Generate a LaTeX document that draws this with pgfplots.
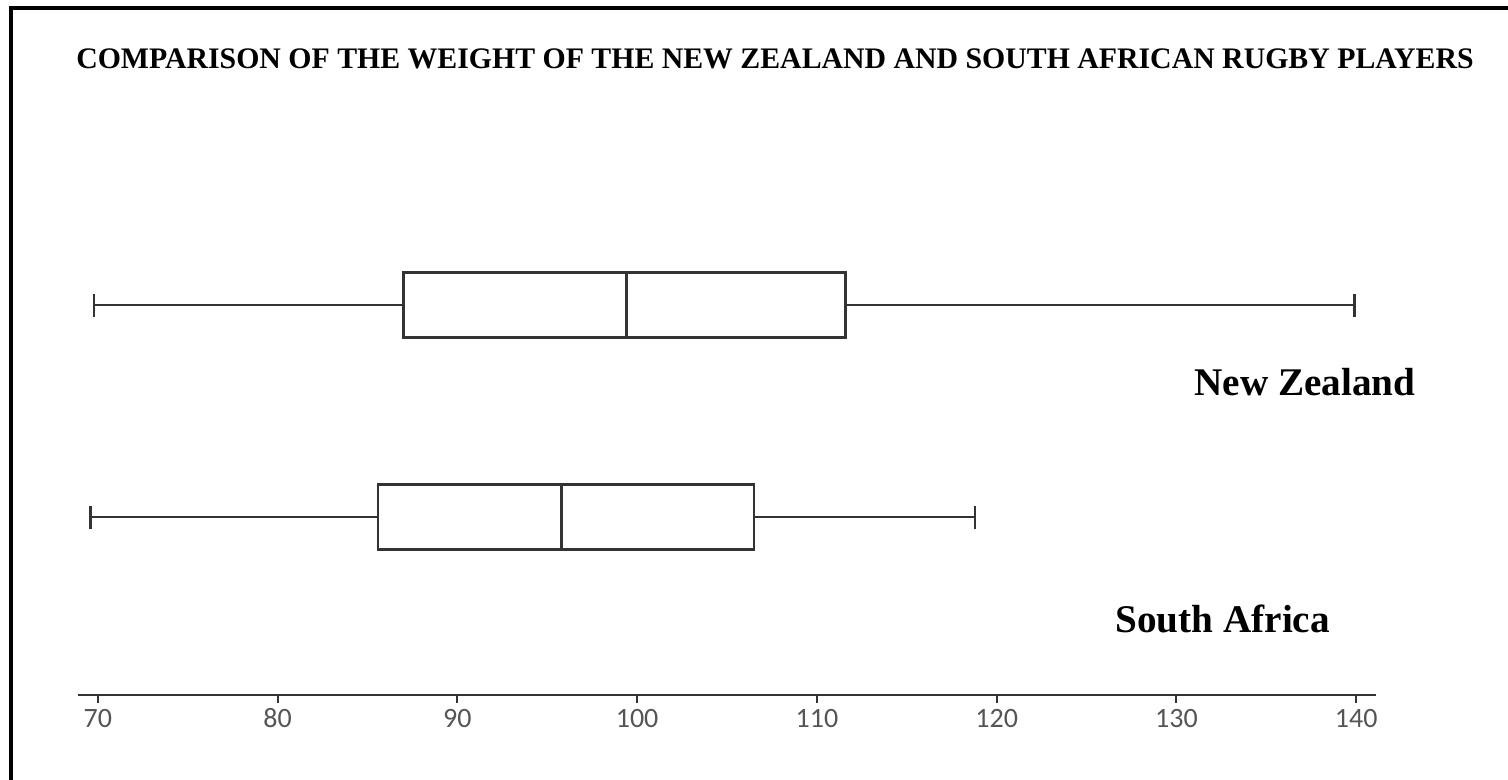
\documentclass[border=0pt]{standalone}
\usepackage{fontspec}
\setmainfont{Liberation Serif}
\newfontfamily\tickfont{Carlito}
\usepackage{pgfplots}
\pgfplotsset{compat=1.18}
\usepgfplotslibrary{statistics}
\definecolor{boxline}{HTML}{333333}
\definecolor{ticktext}{HTML}{555555}
\begin{document}
\begin{tikzpicture}
% picture is 1508x780 px, 1px = 0.5pt, origin top left
\useasboundingbox (0,0) rectangle (754pt,-390pt);
\draw[line width=2pt] (5.5pt,-390pt) -- (5.5pt,-4.25pt) -- (754pt,-4.25pt);

\begin{axis}[
  at={(39pt,-347.5pt)}, anchor=south west,
  scale only axis, width=649pt, height=258.5pt,
  xmin=68.9, xmax=141.1, ymin=0.16, ymax=2.6,
  axis x line*=bottom, axis y line=none,
  axis line style={-},
  x axis line style={boxline, line width=1.1pt},
  xtick={70,80,...,140}, ytick=\empty,
  tick align=outside, major tick length=4pt,
  tick style={boxline, line width=1pt},
  xticklabel style={font=\tickfont\fontsize{14pt}{14pt}\selectfont, text=ticktext,
    text height=1.3ex, text depth=0pt, yshift=-2.5pt},
  /pgf/number format/assume math mode=true,
  clip=false,
]
% New Zealand
\addplot[boxline, line width=1.2pt, solid,
  boxplot prepared={draw direction=x, draw position=2,
    lower whisker=69.8, lower quartile=87.0, median=99.4,
    upper quartile=111.6, upper whisker=139.9,
    box extend=0.307, whisker extend=0.1085}] coordinates {};
% South Africa
\addplot[boxline, line width=1.2pt, solid,
  boxplot prepared={draw direction=x, draw position=1,
    lower whisker=69.6, lower quartile=85.6, median=95.8,
    upper quartile=106.5, upper whisker=118.8,
    box extend=0.307, whisker extend=0.1085}] coordinates {};
\end{axis}

\node[anchor=base, font=\bfseries\fontsize{14.9pt}{15pt}\selectfont] at (387.5pt,-34.5pt)
  {COMPARISON OF THE WEIGHT OF THE NEW ZEALAND AND SOUTH AFRICAN RUGBY PLAYERS};
\node[anchor=base west, inner sep=0, font=\bfseries\fontsize{19.6pt}{20pt}\selectfont] at (597pt,-197.5pt) {New Zealand};
\node[anchor=base west, inner sep=0, font=\bfseries\fontsize{19.6pt}{20pt}\selectfont] at (557.5pt,-316pt) {South Africa};
\end{tikzpicture}
\end{document}
